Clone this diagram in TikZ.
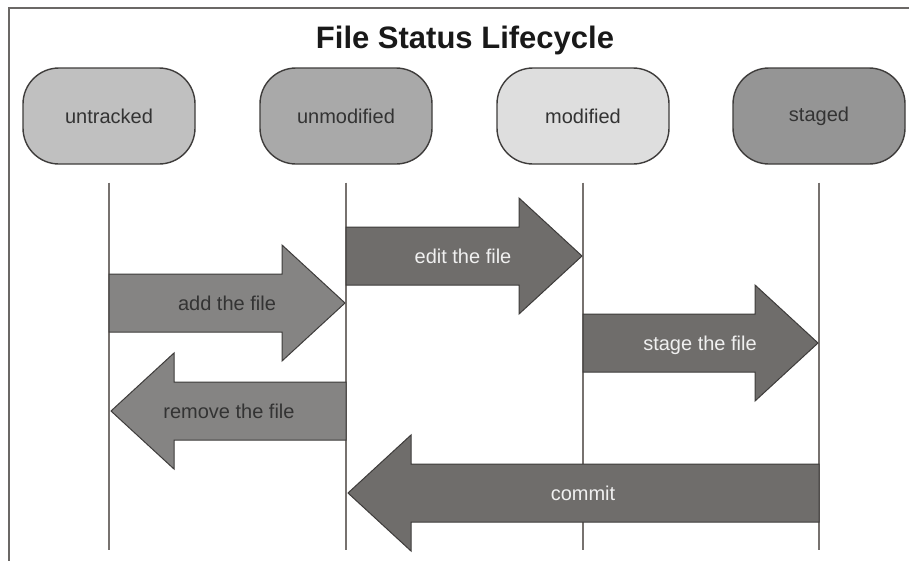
\documentclass[tikz,border=0pt]{standalone}
\usepackage{fontspec}
\setmainfont{Liberation Sans}
\definecolor{frameC}{HTML}{6B6866}
\definecolor{lifeC}{HTML}{77726F}
\definecolor{edgeC}{HTML}{3E3C3B}
\definecolor{utC}{HTML}{C0C0C0}
\definecolor{umC}{HTML}{A9A9A9}
\definecolor{moC}{HTML}{DEDEDE}
\definecolor{stC}{HTML}{959595}
\definecolor{lightArr}{HTML}{858483}
\definecolor{darkArr}{HTML}{6F6D6B}
\definecolor{darkTxt}{HTML}{333333}
\definecolor{lightTxt}{HTML}{F0F0F0}
\tikzset{
  statebox/.style={draw=edgeC, line width=1.4pt, rounded corners=36pt,
    minimum width=172pt, minimum height=96pt, inner sep=0pt,
    font=\fontsize{20}{24}\selectfont, text=darkTxt},
  life/.style={draw=lifeC, line width=1.8pt},
  arrbody/.style={draw=edgeC, line width=1pt, line join=miter},
  lbl/.style={font=\fontsize{20}{24}\selectfont, text height=14pt, text depth=0pt, inner sep=0pt},
}
% right-pointing block arrow: #1 start x, #2 tip x, #3 centre y, #4 fill
\newcommand{\blockR}[4]{%
  \path[arrbody, fill=#4] (#1,#3-29) -- (#2-63,#3-29) -- (#2-63,#3-58) -- (#2,#3)
    -- (#2-63,#3+58) -- (#2-63,#3+29) -- (#1,#3+29) -- cycle;}
% left-pointing block arrow: #1 start x (right), #2 tip x (left), #3 centre y, #4 fill
\newcommand{\blockL}[4]{%
  \path[arrbody, fill=#4] (#1,#3-29) -- (#2+63,#3-29) -- (#2+63,#3-58) -- (#2,#3)
    -- (#2+63,#3+58) -- (#2+63,#3+29) -- (#1,#3+29) -- cycle;}
\begin{document}
\begin{tikzpicture}[x=1pt,y=-1pt]
\useasboundingbox (0,0) rectangle (909,560);
\fill[white] (0,0) rectangle (909,560);
% frame (only top and left edges visible)
\draw[frameC, line width=2pt] (8.5,570) -- (8.5,7.5) -- (920,7.5);
% title
\node[font=\bfseries\fontsize{31}{36}\selectfont, text=black!90, text height=22pt, text depth=0pt, inner sep=0pt] (title) at (465,37.5) {File Status Lifecycle};
% states
\node[statebox, fill=utC] (ut) at (109,116) {untracked};
\node[statebox, fill=umC] (um) at (346,116) {unmodified};
\node[statebox, fill=moC] (mo) at (583,116) {modified};
\node[statebox, fill=stC] (st) at (819,116) {staged};
% lifelines
\coordinate (utb) at (109,550);
\coordinate (umb) at (346,550);
\coordinate (mob) at (583,550);
\coordinate (stb) at (819,550);
\draw[life] ([yshift=-18pt]ut.south) -- (utb);
\draw[life] ([yshift=-18pt]um.south) -- (umb);
\draw[life] ([yshift=-18pt]mo.south) -- (mob);
\draw[life] ([yshift=-18pt]st.south) -- (stb);
% transitions
\blockR{109}{345}{303}{lightArr}
\node[lbl, text=darkTxt] (add) at (227,303) {add the file};
\blockR{346}{582}{256}{darkArr}
\node[lbl, text=lightTxt] (edit) at (463,256) {edit the file};
\blockR{583}{818}{343}{darkArr}
\node[lbl, text=lightTxt] (stage) at (700,343) {stage the file};
\blockL{346}{111}{411}{lightArr}
\node[lbl, text=darkTxt] (remove) at (229,411) {remove the file};
\blockL{819}{348}{493}{darkArr}
\node[lbl, text=lightTxt] (commit) at (583,493) {commit};
\end{tikzpicture}
\end{document}
